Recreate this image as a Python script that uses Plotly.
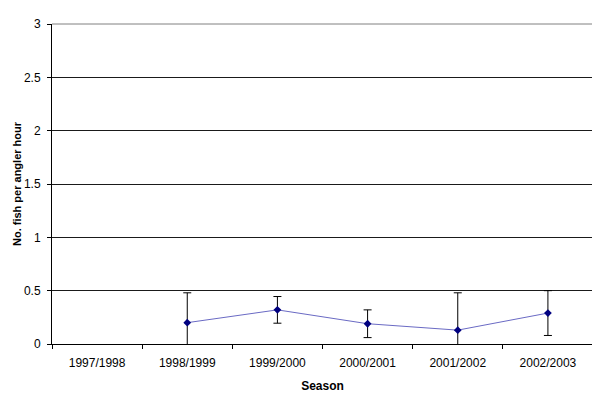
"""Fish catch rate per angler hour by season, with error bars."""

import plotly.graph_objects as go

SEASONS = ["1997/1998", "1998/1999", "1999/2000", "2000/2001", "2001/2002", "2002/2003"]
CATCH_RATE = [None, 0.20, 0.32, 0.19, 0.13, 0.29]
ERROR = [None, 0.28, 0.125, 0.13, 0.35, 0.21]
Y_TICKS = [0, 0.5, 1, 1.5, 2, 2.5, 3]
Y_TICK_LABELS = ["0", "0.5", "1", "1.5", "2", "2.5", "3"]

FONT = "Liberation Sans, Arial, sans-serif"
TEXT = "#000000"

fig = go.Figure()
fig.add_trace(
    go.Scatter(
        x=SEASONS,
        y=CATCH_RATE,
        mode="lines+markers",
        line={"color": "#6a6ac4", "width": 1},
        marker={"symbol": "diamond", "size": 6, "color": "#000080"},
        error_y={
            "type": "data",
            "array": ERROR,
            "visible": True,
            "color": "#000000",
            "thickness": 1,
            "width": 4,
        },
        showlegend=False,
    )
)

# grey frame on top and right, as in the spreadsheet chart
fig.add_shape(type="line", xref="paper", yref="paper", x0=0, x1=1, y0=1, y1=1,
              line={"color": "#808080", "width": 1})
fig.add_shape(type="line", xref="paper", yref="paper", x0=1, x1=1, y0=0, y1=1,
              line={"color": "#808080", "width": 1})

# page body adds a small offset, margins compensate for it
fig.update_layout(
    width=600,
    height=401,
    paper_bgcolor="white",
    plot_bgcolor="white",
    font={"family": FONT, "color": TEXT, "size": 12},
    margin={"l": 44, "r": 15, "t": 16, "b": 65},
)
fig.update_xaxes(
    type="category",
    categoryorder="array",
    categoryarray=SEASONS,
    range=[-0.5, len(SEASONS) - 0.5],
    showgrid=False,
    showline=True,
    linecolor="#000000",
    linewidth=1,
    ticks="outside",
    tickson="boundaries",
    ticklen=4,
    tickcolor="#000000",
    tickfont={"size": 12},
    ticklabelstandoff=8,
    automargin=False,
    title={"text": "<b>Season</b>", "font": {"size": 12}, "standoff": 12},
)
fig.update_yaxes(
    range=[0, 3],
    tickvals=Y_TICKS,
    ticktext=Y_TICK_LABELS,
    showgrid=True,
    gridcolor="#1a1a1a",
    gridwidth=1,
    zeroline=False,
    showline=True,
    linecolor="#000000",
    linewidth=1,
    ticks="outside",
    ticklen=4,
    tickcolor="#000000",
    tickfont={"size": 12},
    ticklabelstandoff=4,
    automargin=False,
    title={"text": "<b>No. fish per angler hour</b>", "font": {"size": 11}, "standoff": 0},
)

fig.write_html("out.html")
